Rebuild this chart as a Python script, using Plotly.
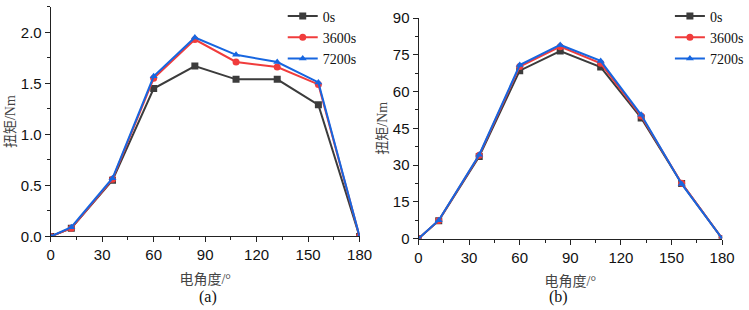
import plotly.graph_objects as go

angles = [0, 12, 36, 60, 84, 108, 132, 156, 180]
series_names = ["0s", "3600s", "7200s"]

a_0s = [0, 0.08, 0.55, 1.45, 1.67, 1.54, 1.54, 1.29, 0]
a_3600s = [0, 0.08, 0.56, 1.55, 1.93, 1.71, 1.66, 1.49, 0]
a_7200s = [0, 0.09, 0.57, 1.57, 1.95, 1.78, 1.71, 1.51, 0]

b_0s = [0, 7.3, 33.5, 68.5, 76.5, 70.0, 49.2, 22.5, 0]
b_3600s = [0, 7.4, 34.0, 70.2, 78.3, 71.5, 50.0, 22.6, 0]
b_7200s = [0, 7.5, 34.2, 70.8, 79.0, 72.5, 50.5, 22.3, 0]

colors = ["#3c3c3c", "#f03c3c", "#1766e0"]
symbols = ["square", "circle", "triangle-up"]

fig = go.Figure()
for i, (name, ya) in enumerate(zip(series_names, [a_0s, a_3600s, a_7200s])):
    fig.add_trace(go.Scatter(x=angles, y=ya, name=name, mode="lines+markers",
                             line=dict(color=colors[i], width=2),
                             marker=dict(symbol=symbols[i], size=7, color=colors[i]),
                             xaxis="x", yaxis="y", legend="legend"))
for i, (name, yb) in enumerate(zip(series_names, [b_0s, b_3600s, b_7200s])):
    fig.add_trace(go.Scatter(x=angles, y=yb, name=name, mode="lines+markers",
                             line=dict(color=colors[i], width=2),
                             marker=dict(symbol=symbols[i], size=7, color=colors[i]),
                             xaxis="x2", yaxis="y2", legend="legend2"))

tickfont = dict(family="Liberation Sans", size=15, color="#111")
titlefont = dict(family="Liberation Serif, Noto Sans CJK SC", size=14, color="#444")

def xax(domain, anchor):
    return dict(domain=domain, anchor=anchor, range=[0, 180], tickvals=[0, 30, 60, 90, 120, 150, 180],
                showline=True, linecolor="#222", linewidth=1, ticks="outside", ticklen=5,
                tickcolor="#222", showgrid=False, zeroline=False, tickfont=tickfont,
                automargin=False,
                minor=dict(ticks="outside", ticklen=3, dtick=15, tickcolor="#222"),
                title=dict(text="电角度/°", font=titlefont, standoff=11))

def yax(domain, anchor, rng, dtick, fmt):
    return dict(domain=domain, anchor=anchor, range=rng, dtick=dtick, tickformat=fmt,
                showline=True, linecolor="#222", linewidth=1, ticks="outside", ticklen=5,
                tickcolor="#222", showgrid=False, zeroline=False, tickfont=tickfont,
                automargin=False,
                minor=dict(ticks="outside", ticklen=3, dtick=dtick / 2, tickcolor="#222"),
                title=dict(text="扭矩/Nm", font=titlefont, standoff=1))

legfont = dict(family="Liberation Serif", size=14, color="#111")

fig.update_layout(
    width=749, height=310,
    margin=dict(l=0, r=0, t=0, b=0),
    paper_bgcolor="white", plot_bgcolor="white",
    xaxis=xax([0.068, 0.482], "y"),
    yaxis=yax([0.239, 0.984], "x", [0, 2.25], 0.5, ".1f"),
    xaxis2=xax([0.561, 0.968], "y2"),
    yaxis2=yax([0.232, 0.948], "x2", [0, 90], 15, "d"),
    legend=dict(x=0.379, y=1.005, xanchor="left", yanchor="top", font=legfont,
                bgcolor="rgba(0,0,0,0)", tracegroupgap=0, itemwidth=30),
    legend2=dict(x=0.898, y=1.005, xanchor="left", yanchor="top", font=legfont,
                 bgcolor="rgba(0,0,0,0)", tracegroupgap=0, itemwidth=30),
    annotations=[
        dict(text="(a)", x=0.264, y=1 - 297 / 310, xref="paper", yref="paper", showarrow=False,
             font=dict(family="Liberation Serif", size=16, color="#111"), yanchor="middle"),
        dict(text="(b)", x=0.764, y=1 - 297 / 310, xref="paper", yref="paper", showarrow=False,
             font=dict(family="Liberation Serif", size=16, color="#111"), yanchor="middle"),
    ],
)

fig.write_html("out.html", config={"displayModeBar": False},
               post_script="document.body.style.margin='0';document.body.style.overflow='hidden';")
